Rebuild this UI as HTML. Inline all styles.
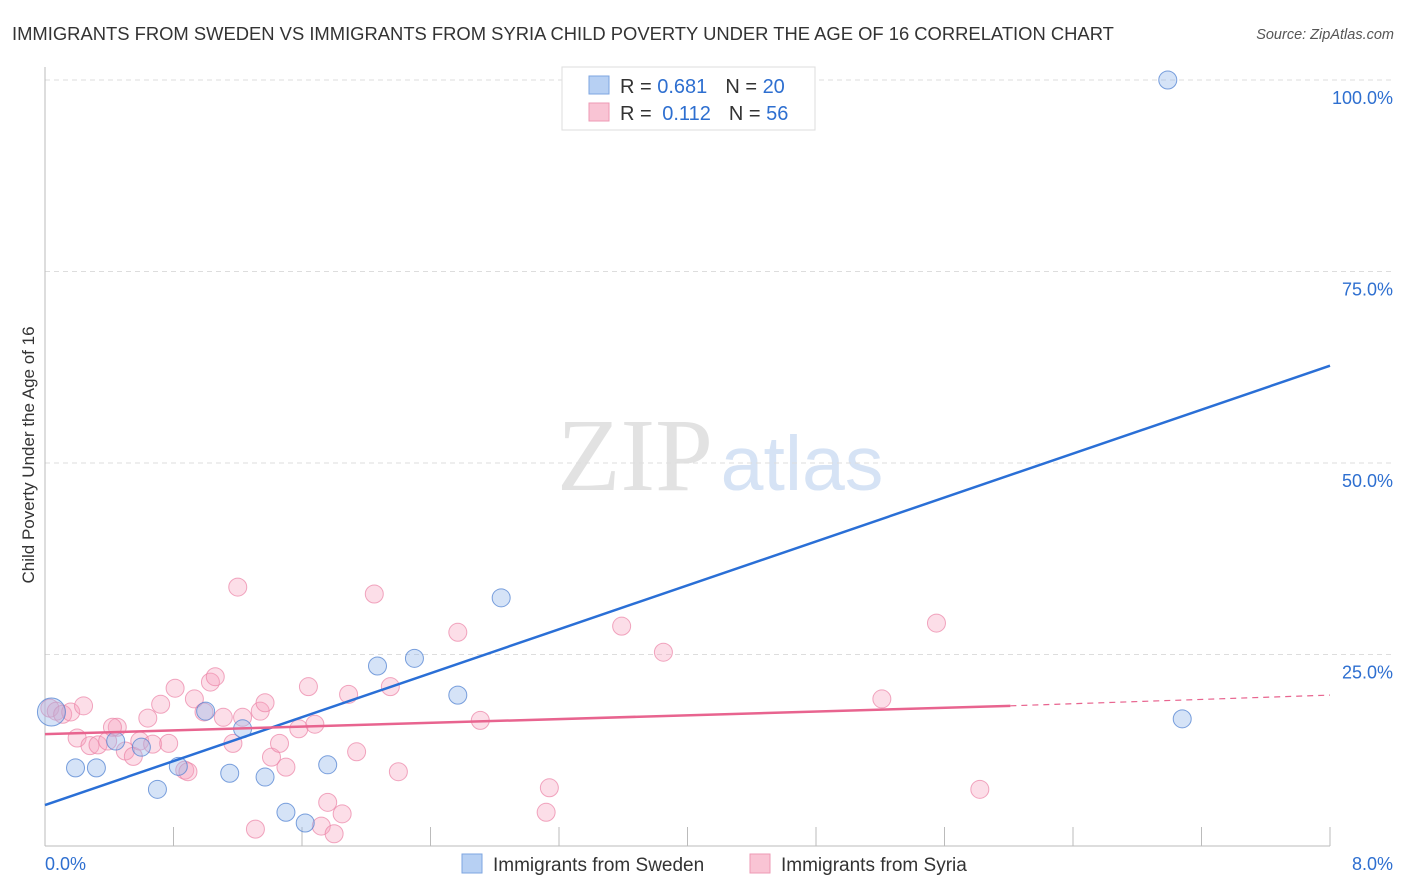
<!DOCTYPE html>
<html><head><meta charset="utf-8"><style>
body{margin:0;background:#fff;font-family:"Liberation Sans",sans-serif;}
svg{display:block}
</style></head><body>
<svg id="chart" width="1406" height="892">
<text x="12" y="40" font-size="18.4" fill="#333">IMMIGRANTS FROM SWEDEN VS IMMIGRANTS FROM SYRIA CHILD POVERTY UNDER THE AGE OF 16 CORRELATION CHART</text>
<text x="1394" y="39" font-size="14.5" fill="#555" font-style="italic" text-anchor="end">Source: ZipAtlas.com</text>
<text transform="translate(34,455) rotate(-90)" font-size="17" fill="#333" text-anchor="middle">Child Poverty Under the Age of 16</text>
<g>
<text x="635" y="490" font-size="104" font-family="Liberation Serif,serif" fill="#e2e2e2" text-anchor="middle">ZIP</text>
<text x="802" y="490" font-size="77" fill="#d6e3f5" text-anchor="middle">atlas</text>
</g>
<g id="grid"></g><g id="axes"></g><g id="marks"></g>
<g>
<rect x="562" y="67" width="253" height="63" fill="#fff" stroke="#ddd"/>
<rect x="589" y="76" width="20" height="18" fill="#b7d0f3" stroke="#7ea6e0"/>
<rect x="589" y="103" width="20" height="18" fill="#f9c4d4" stroke="#ee9ab4"/>
<text x="620" y="93" font-size="20" fill="#333">R = <tspan fill="#2e6fd0">0.681</tspan><tspan dx="18">N = </tspan><tspan fill="#2e6fd0">20</tspan></text>
<text x="620" y="120" font-size="20" fill="#333">R = <tspan fill="#2e6fd0" dx="5">0.112</tspan><tspan dx="18">N = </tspan><tspan fill="#2e6fd0">56</tspan></text>
</g>
<g>
<rect x="462" y="854" width="20" height="19" fill="#b7d0f3" stroke="#7ea6e0"/>
<text x="493" y="871" font-size="19" fill="#333">Immigrants from Sweden</text>
<rect x="750" y="854" width="20" height="19" fill="#f9c4d4" stroke="#ee9ab4"/>
<text x="781" y="871" font-size="19" fill="#333">Immigrants from Syria</text>
</g>
</svg>
<script>
const yTicks=[25,50,75,100];
const yTickLabels=["25.0%","50.0%","75.0%","100.0%"];
const xTickLabels=["0.0%","8.0%"];
const swedenX=[0.04,0.19,0.32,0.44,0.60,0.70,0.83,1.00,1.15,1.23,1.37,1.50,1.62,1.76,2.07,2.30,2.57,2.84,6.99,7.08];
const swedenY=[17.5,10.2,10.2,13.7,12.9,7.4,10.4,17.6,9.5,15.3,9.0,4.4,3.0,10.6,23.5,24.5,19.7,32.4,100,16.6];
const syriaX=[0.03,0.07,0.11,0.16,0.24,0.20,0.28,0.33,0.39,0.45,0.42,0.50,0.55,0.59,0.64,0.67,0.72,0.77,0.81,0.87,0.89,0.93,0.99,1.03,1.06,1.11,1.17,1.20,1.23,1.31,1.34,1.37,1.41,1.46,1.50,1.58,1.64,1.68,1.72,1.76,1.80,1.85,1.89,1.94,2.05,2.15,2.20,2.57,2.71,3.12,3.14,3.59,3.85,5.21,5.55,5.82];
const syriaY=[18.0,17.6,17.2,17.5,18.3,14.1,13.1,13.2,13.7,15.5,15.5,12.4,11.7,13.7,16.7,13.3,18.5,13.4,20.6,9.9,9.7,19.2,17.5,21.4,22.1,16.8,13.4,33.8,16.8,2.2,17.6,18.7,11.6,13.4,10.3,15.3,20.8,15.9,2.6,5.7,1.6,4.2,19.8,12.3,32.9,20.8,9.7,27.9,16.4,4.4,7.6,28.7,25.3,19.2,29.1,7.4];
const swedenTrend=[5.35,62.7];
const syriaTrend=[14.6,18.3,19.7];
const X=v=>45+v/8*1285, Y=v=>846-v/100*766;
const NS="http://www.w3.org/2000/svg";
function mk(p,tag,a){const e=document.createElementNS(NS,tag);for(const k in a)e.setAttribute(k,a[k]);p.appendChild(e);return e;}
const grid=document.getElementById('grid'),axes=document.getElementById('axes'),marks=document.getElementById('marks');
yTicks.forEach((t,i)=>{
 const l=mk(grid,'line',{x1:45,x2:1394,y1:Y(t),y2:Y(t),stroke:'#ddd','stroke-dasharray':'5,4'});
 
 
 const tx=mk(axes,'text',{x:1393,y:Y(t)+24,'font-size':18,fill:'#2e6fd0','text-anchor':'end'});tx.textContent=yTickLabels[i];
 
 
});
const ax=mk(axes,'line',{x1:45,x2:45,y1:67,y2:846,stroke:'#bbb'});


const bx=mk(axes,'line',{x1:45,x2:1330,y1:846,y2:846,stroke:'#bbb'});


for(let i=1;i<=10;i++){const v=i*0.8;const t=mk(axes,'line',{x1:X(v),x2:X(v),y1:827,y2:846,stroke:'#bbb'});
 
 }
[[0,'start',45],[8,'end',1393]].forEach((d,i)=>{const t=mk(axes,'text',{x:d[2],y:870,'font-size':18,fill:'#2e6fd0','text-anchor':d[1]});t.textContent=xTickLabels[i];
 
 });
syriaX.forEach((x,i)=>{const c=mk(marks,'circle',{cx:X(x),cy:Y(syriaY[i]),r:9,fill:'rgba(245,160,188,0.35)',stroke:'rgba(235,130,165,0.7)','stroke-width':1});
 
 });
swedenX.forEach((x,i)=>{const c=mk(marks,'circle',{cx:X(x),cy:Y(swedenY[i]),r:i==0?14:9,fill:'rgba(150,185,235,0.4)',stroke:'rgba(80,130,210,0.75)','stroke-width':1});
 
 });
const l1=mk(marks,'line',{x1:X(0),y1:Y(swedenTrend[0]),x2:X(8),y2:Y(swedenTrend[1]),stroke:'#2a6fd6','stroke-width':2.5});


const l2=mk(marks,'line',{x1:X(0),y1:Y(syriaTrend[0]),x2:X(6.01),y2:Y(syriaTrend[1]),stroke:'#e8648f','stroke-width':2.5});


const l3=mk(marks,'line',{x1:X(6.01),y1:Y(syriaTrend[1]),x2:X(8),y2:Y(syriaTrend[2]),stroke:'#e8648f','stroke-width':1.2,'stroke-dasharray':'6,5'});


</script>
</body></html>
